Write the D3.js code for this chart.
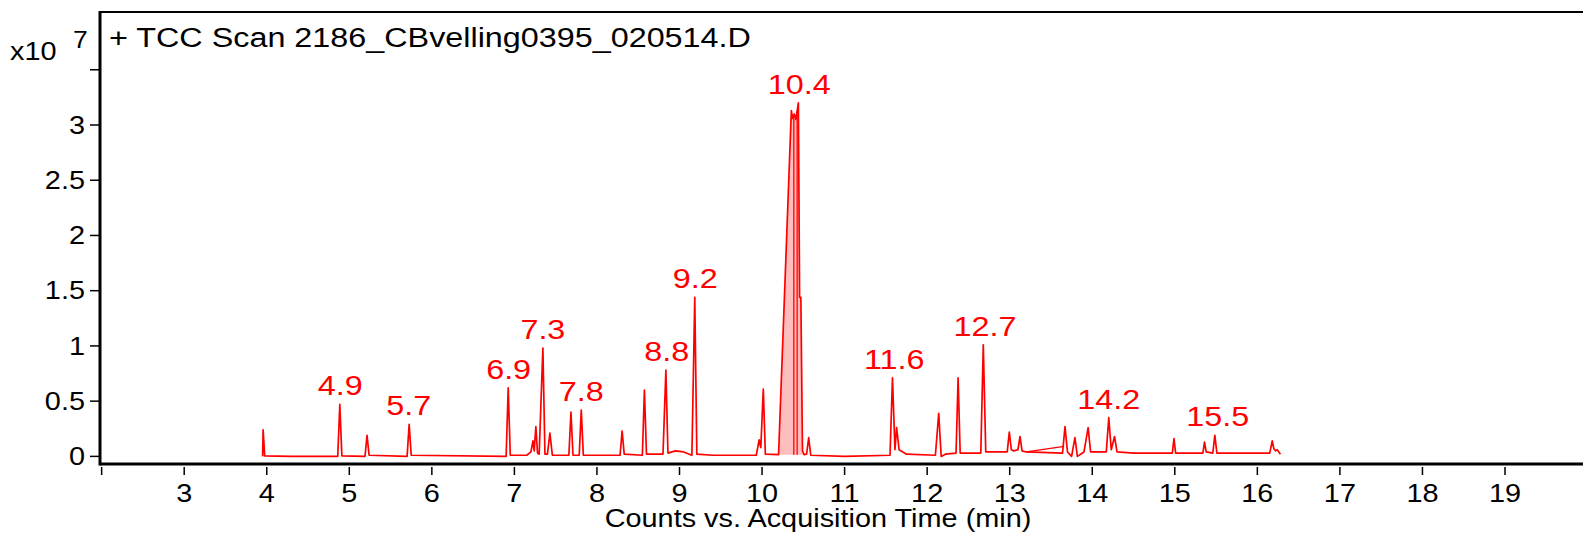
<!DOCTYPE html>
<html lang="en">
<head>
    <meta charset="UTF-8" />
    <script src="https://d3js.org/d3.v7.min.js"></script>
    <title>TCC Scan</title>
    <style>
        body { margin: 0; background: #fff; }
        text { font-family: "Liberation Sans", Arial, sans-serif; }
    </style>
</head>
<body>
<svg id="chart"></svg>
<script>
    // chromatogram trace, [time (min), counts x10^7]
    var trace = [
        [3.950, 0.00], [3.956, 0.24], [3.975, 0.005], [4.30, 0.00],
        [4.860, 0.00], [4.885, 0.47], [4.910, 0.005], [5.190, 0.00],
        [5.215, 0.19], [5.240, 0.01], [5.700, 0.00], [5.725, 0.29],
        [5.750, 0.01], [6.900, 0.00], [6.925, 0.62], [6.950, 0.01],
        [7.150, 0.01], [7.200, 0.04], [7.225, 0.14], [7.240, 0.05],
        [7.260, 0.27], [7.280, 0.03], [7.300, 0.02], [7.345, 0.98],
        [7.370, 0.02], [7.400, 0.02], [7.430, 0.21], [7.460, 0.01],
        [7.660, 0.01], [7.685, 0.40], [7.710, 0.01], [7.785, 0.01],
        [7.810, 0.42], [7.835, 0.01], [8.280, 0.01], [8.305, 0.23],
        [8.330, 0.02], [8.550, 0.01], [8.575, 0.60], [8.600, 0.02],
        [8.800, 0.02], [8.835, 0.78], [8.860, 0.03], [8.950, 0.05],
        [9.050, 0.04], [9.150, 0.01], [9.185, 1.44], [9.210, 0.02],
        [9.400, 0.01], [9.930, 0.01], [9.965, 0.15], [9.985, 0.08],
        [10.015, 0.61], [10.040, 0.02], [10.200, 0.015], [10.355, 3.13],
        [10.370, 3.06], [10.390, 3.10], [10.410, 3.05], [10.440, 3.20],
        [10.455, 1.44], [10.470, 1.44], [10.490, 0.05], [10.510, 0.015],
        [10.540, 0.02], [10.565, 0.17], [10.590, 0.01], [11.000, 0.00],
        [11.550, 0.01], [11.580, 0.71], [11.610, 0.06], [11.630, 0.26],
        [11.660, 0.06], [11.750, 0.02], [12.100, 0.01], [12.140, 0.39],
        [12.170, 0.00], [12.220, 0.02], [12.350, 0.03], [12.375, 0.71],
        [12.400, 0.03], [12.650, 0.03], [12.680, 1.01], [12.710, 0.04],
        [12.970, 0.04], [12.995, 0.22], [13.020, 0.06], [13.050, 0.05],
        [13.100, 0.06], [13.125, 0.18], [13.150, 0.05], [13.200, 0.04],
        [13.640, 0.03], [13.670, 0.27], [13.700, 0.04], [13.750, 0.00],
        [13.790, 0.17], [13.820, 0.00], [13.900, 0.04], [13.950, 0.26],
        [13.980, 0.04], [14.170, 0.04], [14.200, 0.35], [14.230, 0.06],
        [14.270, 0.18], [14.300, 0.04], [14.500, 0.03], [14.970, 0.03],
        [14.990, 0.16], [15.010, 0.03], [15.340, 0.03], [15.360, 0.13],
        [15.380, 0.04], [15.460, 0.03], [15.485, 0.19], [15.510, 0.03],
        [16.150, 0.03], [16.180, 0.14], [16.200, 0.07], [16.220, 0.05],
        [16.240, 0.06], [16.280, 0.02]
    ];

    // integration baseline drawn under the 13.2 - 13.7 region
    var extraBaseline = [[13.20, 0.04], [13.66, 0.09]];

    // integrated region of the main peak and its split markers
    var fillStart = 10.20, fillEnd = 10.51;
    var splitTimes = [10.385, 10.425];

    var peakLabels = ["4.9", "5.7", "6.9", "7.3", "7.8", "8.8", "9.2", "10.4", "11.6", "12.7", "14.2", "15.5"];
    var peakTimes = [4.89, 5.72, 6.93, 7.345, 7.81, 8.845, 9.19, 10.45, 11.6, 12.7, 14.2, 15.52];

    var yTicks = [0, 0.5, 1, 1.5, 2, 2.5, 3, 3.5];
    var yTickLabels = ["0", "0.5", "1", "1.5", "2", "2.5", "3", ""];
    var xTicks = d3.range(2, 20);
    var xTickLabels = xTicks.map(function(d) { return d === 2 ? "" : String(d); });

    var titleText = "+ TCC Scan 2186_CBvelling0395_020514.D";
    var xAxisTitle = "Counts vs. Acquisition Time (min)";

    var width = 1583, height = 535;
    var plotLeft = 100, plotTop = 12, plotBottom = 464;
    var fontSize = 25;
    var stretch = 1.155;   // the original text is a bit wider than it is tall

    var svg = d3.select("#chart")
        .attr("width", width)
        .attr("height", height);

    var x = d3.scaleLinear()
        .domain([1.98, 20.2])
        .range([plotLeft, plotLeft + 18.22 * 82.55]);

    var y = d3.scaleLinear()
        .domain([-0.069, 4.023])
        .range([plotBottom, plotTop]);

    // place a text at (px, py) with the horizontal stretch
    function addText(sel, px, py) {
        return sel.attr("transform", "translate(" + px + "," + py + ") scale(" + stretch + ",1)");
    }

    // area under the main peak
    var fillData = trace.filter(function(d) { return d[0] >= fillStart && d[0] <= fillEnd; });
    svg.append("path")
        .datum(fillData)
        .attr("fill", "#ffbdbd")
        .attr("d", d3.area()
            .x(function(d) { return x(d[0]); })
            .y0(y(0.015))
            .y1(function(d) { return y(d[1]); }));

    var line = d3.line()
        .x(function(d) { return x(d[0]); })
        .y(function(d) { return y(d[1]); });

    svg.append("path")
        .datum(extraBaseline)
        .attr("fill", "none")
        .attr("stroke", "#ff0000")
        .attr("stroke-width", 1.3)
        .attr("d", line);

    // split lines inside the integrated area
    var interp = function(t) {
        for (var i = 1; i < trace.length; i++) {
            if (trace[i][0] >= t) {
                var a = trace[i - 1], b = trace[i];
                return a[1] + (b[1] - a[1]) * (t - a[0]) / (b[0] - a[0]);
            }
        }
        return 0;
    };
    svg.selectAll(".split")
        .data(splitTimes)
        .enter()
        .append("line")
        .attr("x1", function(d) { return x(d); })
        .attr("x2", function(d) { return x(d); })
        .attr("y1", y(0.015))
        .attr("y2", function(d) { return y(interp(d)); })
        .attr("stroke", "#ff0000")
        .attr("stroke-width", 1.3);

    svg.append("path")
        .datum(trace)
        .attr("fill", "none")
        .attr("stroke", "#ff0000")
        .attr("stroke-width", 1.7)
        .attr("stroke-linejoin", "round")
        .attr("d", line);

    // peak labels sit just above the highest point near each label
    var apex = function(t) {
        var near = trace.filter(function(d) { return Math.abs(d[0] - t) < 0.06; });
        return d3.max(near, function(d) { return d[1]; });
    };
    svg.selectAll(".peak-label")
        .data(peakLabels)
        .enter()
        .append("text")
        .attr("class", "peak-label")
        .attr("transform", function(d, i) {
            return "translate(" + x(peakTimes[i]) + "," + (y(apex(peakTimes[i])) - 9) + ") scale(" + stretch + ",1)";
        })
        .attr("text-anchor", "middle")
        .attr("fill", "#ff0000")
        .style("font-size", "28px")
        .text(function(d) { return d; });

    // frame
    svg.append("line")
        .attr("x1", plotLeft).attr("x2", width)
        .attr("y1", plotTop).attr("y2", plotTop)
        .attr("stroke", "#000").attr("stroke-width", 2);
    svg.append("line")
        .attr("x1", plotLeft).attr("x2", width)
        .attr("y1", plotBottom).attr("y2", plotBottom)
        .attr("stroke", "#000").attr("stroke-width", 3);
    svg.append("line")
        .attr("x1", plotLeft).attr("x2", plotLeft)
        .attr("y1", plotTop - 1).attr("y2", plotBottom + 1.5)
        .attr("stroke", "#000").attr("stroke-width", 3);

    // y axis
    var yAxis = svg.append("g");
    yAxis.selectAll("line")
        .data(yTicks)
        .enter()
        .append("line")
        .attr("x1", plotLeft - 10).attr("x2", plotLeft)
        .attr("y1", function(d) { return y(d); })
        .attr("y2", function(d) { return y(d); })
        .attr("stroke", "#000").attr("stroke-width", 1.5);
    yAxis.selectAll("text")
        .data(yTicks)
        .enter()
        .append("text")
        .attr("transform", function(d) { return "translate(85," + y(d) + ") scale(" + stretch + ",1)"; })
        .attr("dy", "0.35em")
        .attr("text-anchor", "end")
        .style("font-size", fontSize + "px")
        .text(function(d, i) { return yTickLabels[i]; });

    // x axis
    var xAxis = svg.append("g");
    xAxis.selectAll("line")
        .data(xTicks)
        .enter()
        .append("line")
        .attr("x1", function(d) { return x(d); })
        .attr("x2", function(d) { return x(d); })
        .attr("y1", plotBottom + 3).attr("y2", plotBottom + 11)
        .attr("stroke", "#000").attr("stroke-width", 1.5);
    xAxis.selectAll("text")
        .data(xTicks)
        .enter()
        .append("text")
        .attr("transform", function(d) { return "translate(" + x(d) + ",502) scale(" + stretch + ",1)"; })
        .attr("text-anchor", "middle")
        .style("font-size", fontSize + "px")
        .text(function(d, i) { return xTickLabels[i]; });

    addText(svg.append("text"), 818, 527)
        .attr("text-anchor", "middle")
        .style("font-size", fontSize + "px")
        .text(xAxisTitle);

    addText(svg.append("text"), 10, 60)
        .style("font-size", fontSize + "px")
        .text("x10");
    addText(svg.append("text"), 73, 48)
        .style("font-size", "23px")
        .text("7");

    addText(svg.append("text"), 109, 47)
        .style("font-size", "28px")
        .text(titleText);
</script>
</body>
</html>
